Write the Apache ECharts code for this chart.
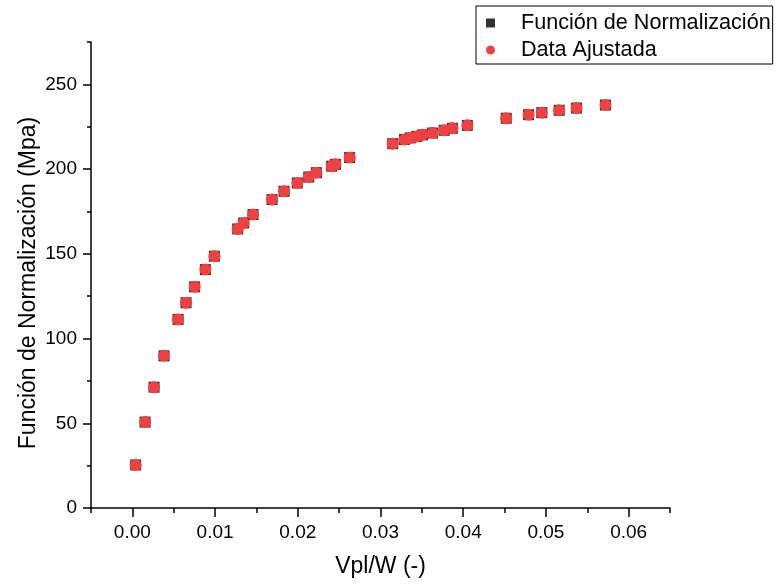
<!DOCTYPE html>
<html>
<head>
<meta charset="utf-8">
<script src="https://cdn.jsdelivr.net/npm/echarts@6/dist/echarts.min.js"></script>
<style>html,body{margin:0;padding:0;background:#fff}#c{width:778px;height:585px}</style>
</head>
<body>
<div id="c"></div>
<script>
var xValues = [0.0004, 0.00154, 0.00262, 0.00383, 0.00553, 0.00649, 0.00753, 0.00883, 0.00992,
  0.01274, 0.01346, 0.01459, 0.01689, 0.01834, 0.01995, 0.02132, 0.02225, 0.0241, 0.02455, 0.02627,
  0.03148, 0.0329, 0.0336, 0.0344, 0.0351, 0.0363, 0.0377, 0.0387, 0.0405,
  0.0452, 0.0479, 0.0495, 0.0516, 0.0537, 0.0572];
var normValues = [25.4, 50.7, 71.3, 89.8, 111.3, 121.1, 130.5, 140.7, 148.6,
  164.7, 168.2, 173.2, 182.0, 186.9, 191.8, 195.3, 197.9, 201.7, 202.8, 206.8,
  215.0, 217.5, 218.4, 219.3, 220.2, 221.3, 222.9, 224.1, 225.8,
  230.0, 232.1, 233.3, 234.7, 236.0, 237.8];
var fitValues = normValues.slice();
var xTickLabels = [0, 0.01, 0.02, 0.03, 0.04, 0.05, 0.06];
var yTickLabels = [0, 50, 100, 150, 200, 250];
var seriesNames = ['Función de Normalización', 'Data Ajustada'];

var FONT = 'Liberation Sans, Arial, sans-serif';
function pairs(xs, ys) { return xs.map(function (x, i) { return [x, ys[i]]; }); }

var chart = echarts.init(document.getElementById('c'), null, {renderer: 'canvas'});
chart.setOption({
  animation: false,
  backgroundColor: '#fff',
  textStyle: {fontFamily: FONT},
  grid: {left: 91, right: 108, top: 42, bottom: 77, containLabel: false},
  legend: {
    orient: 'vertical',
    left: 476, top: 6,
    padding: [6, 2, 3, 10],
    backgroundColor: '#fff',
    borderColor: '#000', borderWidth: 1,
    itemWidth: 9, itemHeight: 9, itemGap: 5,
    formatter: function (n) { return '{t|' + n + '}'; },
    textStyle: {
      color: '#000', fontFamily: FONT, fontSize: 21.6,
      rich: {t: {padding: [0, 0, 0, 21], fontSize: 21.6, lineHeight: 22, color: '#000', fontFamily: FONT}}
    },
    data: [{name: seriesNames[0], icon: 'rect'}, {name: seriesNames[1], icon: 'circle'}]
  },
  xAxis: [
    {
      type: 'value', min: -0.005, max: 0.065, interval: 0.005, position: 'bottom',
      axisLine: {show: true, onZero: false, lineStyle: {color: '#000', width: 1.5}},
      axisTick: {show: true, length: 5, lineStyle: {color: '#000', width: 1.5}},
      axisLabel: {show: false}, splitLine: {show: false}
    },
    {
      type: 'value', min: -0.005, max: 0.065, position: 'bottom',
      axisLine: {show: false, onZero: false},
      axisTick: {show: true, length: 9, customValues: xTickLabels, lineStyle: {color: '#000', width: 1.5}},
      axisLabel: {show: true, customValues: xTickLabels, margin: 15, fontSize: 19, color: '#000', fontFamily: FONT,
        formatter: function (v) { return v.toFixed(2); }},
      splitLine: {show: false},
      name: 'Vpl/W (-)', nameLocation: 'middle', nameGap: 47,
      nameTextStyle: {fontSize: 23, color: '#000', fontFamily: FONT}
    }
  ],
  yAxis: [
    {
      type: 'value', min: 0, max: 275, interval: 25, position: 'left',
      axisLine: {show: true, onZero: false, lineStyle: {color: '#000', width: 1.5}},
      axisTick: {show: true, length: 4, lineStyle: {color: '#000', width: 1.5}},
      axisLabel: {show: false}, splitLine: {show: false}
    },
    {
      type: 'value', min: 0, max: 275, position: 'left',
      axisLine: {show: false, onZero: false},
      axisTick: {show: true, length: 8, customValues: yTickLabels, lineStyle: {color: '#000', width: 1.5}},
      axisLabel: {show: true, customValues: yTickLabels, margin: 14, fontSize: 19, color: '#000', fontFamily: FONT},
      splitLine: {show: false},
      name: 'Función de Normalización (Mpa)', nameLocation: 'middle', nameGap: 51, nameMoveOverlap: false,
      nameTextStyle: {fontSize: 23, color: '#000', fontFamily: FONT, padding: [0, 16, 0, 0]}
    }
  ],
  series: [
    {
      name: seriesNames[0], type: 'scatter', xAxisIndex: 0, yAxisIndex: 0,
      symbol: 'rect', symbolSize: 11, itemStyle: {color: '#000'},
      data: pairs(xValues, normValues), z: 2
    },
    {
      name: seriesNames[1], type: 'scatter', xAxisIndex: 0, yAxisIndex: 0,
      symbol: 'circle', symbolSize: 12, itemStyle: {color: '#ef4141', opacity: 1},
      data: pairs(xValues, fitValues), z: 3
    }
  ]
});
</script>
</body>
</html>
